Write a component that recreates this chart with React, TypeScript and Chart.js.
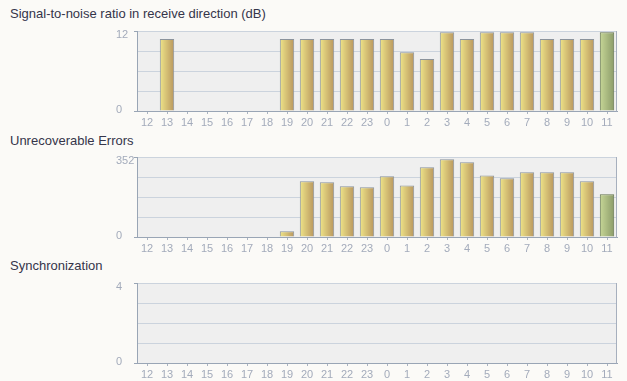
import React, { useEffect, useRef } from 'react';
import { Chart, registerables } from 'chart.js';

Chart.register(...registerables);

const hours = ['12', '13', '14', '15', '16', '17', '18', '19', '20', '21', '22', '23', '0', '1', '2', '3', '4', '5', '6', '7', '8', '9', '10', '11'];

const snrValues: (number | null)[] = [null, 10.8, null, null, null, null, null, 10.8, 10.8, 10.8, 10.8, 10.8, 10.8, 8.8, 7.8, 11.8, 10.8, 11.8, 11.8, 11.8, 10.8, 10.8, 10.8, 11.8];
const errorValues: (number | null)[] = [null, null, null, null, null, null, null, 25, 245, 241, 223, 219, 267, 227, 307, 342, 329, 271, 258, 285, 285, 285, 245, 188];
const syncValues: (number | null)[] = [null, null, null, null, null, null, null, null, null, null, null, null, null, null, null, null, null, null, null, null, null, null, null, null];

const snrMax = 12;
const errorMax = 352;
const syncMax = 4;

const panelTitles = ['Signal-to-noise ratio in receive direction (dB)', 'Unrecoverable Errors', 'Synchronization'];

const FONT = '"Liberation Sans", Arial, Helvetica, sans-serif';
const PAGE_BG = '#fbfaf7';
const PLOT_BG = '#efefef';
const GRID = '#cbd3dd';
const AXIS = '#99a5b5';
const LABEL = '#a3abbb';

function barFill(ctx: any) {
  const chart = ctx.chart;
  const xs = chart.scales && chart.scales.x;
  const last = ctx.dataIndex === hours.length - 1;
  const light = last ? '#c6d696' : '#eee488';
  const dark = last ? '#8c9c6a' : '#b9975f';
  if (!xs || ctx.dataIndex == null || !chart.chartArea) return light;
  const cx = xs.getPixelForValue(ctx.dataIndex);
  const half = (xs.width / hours.length) * 0.35;
  const g = chart.ctx.createLinearGradient(cx - half, 0, cx + half, 0);
  g.addColorStop(0, light);
  g.addColorStop(1, dark);
  return g;
}

const framePlugin = {
  id: 'frame',
  beforeDraw(chart: any) {
    const { ctx, chartArea } = chart;
    if (!chartArea) return;
    ctx.save();
    ctx.fillStyle = PLOT_BG;
    ctx.fillRect(chartArea.left, chartArea.top, chartArea.right - chartArea.left, chartArea.bottom - chartArea.top);
    ctx.restore();
  },
  afterDraw(chart: any) {
    const { ctx, chartArea } = chart;
    if (!chartArea) return;
    ctx.save();
    ctx.strokeStyle = '#a6afbd';
    ctx.lineWidth = 1;
    ctx.beginPath();
    const x = Math.round(chartArea.right) - 0.5;
    ctx.moveTo(x, chartArea.top);
    ctx.lineTo(x, chartArea.bottom + 0.5);
    ctx.stroke();
    ctx.restore();
  },
};

function Panel(props: { title: string; values: (number | null)[]; max: number; titleTop: number; canvasTop: number }) {
  const ref = useRef<HTMLCanvasElement | null>(null);
  useEffect(() => {
    if (!ref.current) return;
    const max = props.max;
    const chart = new Chart(ref.current, {
      type: 'bar',
      data: {
        labels: hours,
        datasets: [
          {
            data: props.values as any,
            backgroundColor: barFill as any,
            borderColor: (c: any) => (c.dataIndex === hours.length - 1 ? '#66764f' : '#8b939c'),
            borderWidth: 1,
            barPercentage: 0.72,
            categoryPercentage: 1,
          },
        ],
      },
      options: {
        animation: false,
        responsive: false,
        devicePixelRatio: 1,
        layout: { padding: { left: 116, right: 10, top: 12, bottom: 0 } },
        plugins: { legend: { display: false }, tooltip: { enabled: false }, title: { display: false } },
        scales: {
          x: {
            offset: true,
            grid: { display: true, drawOnChartArea: false, drawTicks: true, tickLength: 3, tickColor: '#aab3c1', offset: false },
            border: { display: true, color: AXIS, width: 1 },
            ticks: { color: LABEL, font: { family: FONT, size: 11 }, padding: 2, autoSkip: false, maxRotation: 0 },
            afterFit: (s: any) => {
              s.height = 21;
            },
          },
          y: {
            min: 0,
            max: max,
            grid: {
              color: GRID,
              lineWidth: 1,
              drawTicks: true,
              tickLength: 3,
              tickColor: (c: any) => (c.tick && (c.tick.value === 0 || c.tick.value === max) ? AXIS : 'rgba(0,0,0,0)'),
            },
            border: { display: true, color: AXIS, width: 1 },
            ticks: {
              stepSize: max / 4,
              autoSkip: false,
              crossAlign: 'far',
              padding: 0,
              color: LABEL,
              font: (c: any) => ({ family: FONT, size: 11, lineHeight: c.tick && c.tick.value === 0 ? '3px' : '8px' }),
              callback: (v: any) => (v === max ? ['', String(max)] : v === 0 ? ['0', ''] : ''),
            },
            afterFit: (s: any) => {
              s.width = 21;
            },
          },
        },
      } as any,
      plugins: [framePlugin],
    });
    return () => chart.destroy();
  }, []);
  return (
    <>
      <div
        style={{
          position: 'absolute',
          left: 10,
          top: props.titleTop,
          font: `13px ${FONT}`,
          lineHeight: '15px',
          color: '#35354a',
          whiteSpace: 'nowrap',
        }}
      >
        {props.title}
      </div>
      <canvas ref={ref} width={627} height={113} style={{ position: 'absolute', left: 0, top: props.canvasTop, width: 627, height: 113 }} />
    </>
  );
}

export default function App() {
  return (
    <div style={{ position: 'fixed', left: 0, top: 0, width: 627, height: 381, overflow: 'hidden', background: PAGE_BG }}>
      <Panel title={panelTitles[0]} values={snrValues} max={snrMax} titleTop={5.5} canvasTop={19} />
      <Panel title={panelTitles[1]} values={errorValues} max={errorMax} titleTop={132.5} canvasTop={145} />
      <Panel title={panelTitles[2]} values={syncValues} max={syncMax} titleTop={258} canvasTop={271} />
    </div>
  );
}
